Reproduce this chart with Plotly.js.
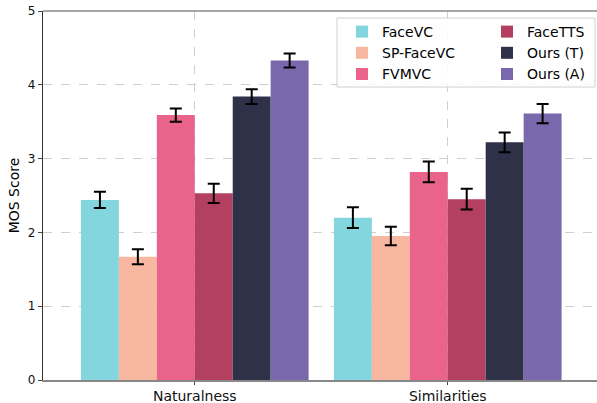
<!DOCTYPE html>
<html>
<head>
<meta charset="utf-8">
<script src="https://cdn.plot.ly/plotly-3.0.1.min.js"></script>
<style>html,body{margin:0;padding:0;background:#fff;}#chart{width:597px;height:403px;}</style>
</head>
<body>
<div id="chart"></div>
<script>
const categories = ["Naturalness", "Similarities"];
const methods = ["FaceVC", "SP-FaceVC", "FVMVC", "FaceTTS", "Ours (T)", "Ours (A)"];
const faceVC = [2.44, 2.20];
const spFaceVC = [1.67, 1.95];
const fvmvc = [3.59, 2.82];
const faceTTS = [2.53, 2.45];
const oursT = [3.84, 3.22];
const oursA = [4.33, 3.61];
const errFaceVC = [0.11, 0.14];
const errSpFaceVC = [0.10, 0.125];
const errFvmvc = [0.09, 0.14];
const errFaceTTS = [0.13, 0.14];
const errOursT = [0.10, 0.135];
const errOursA = [0.095, 0.13];
const yTicks = [0, 1, 2, 3, 4, 5];

const values = [faceVC, spFaceVC, fvmvc, faceTTS, oursT, oursA];
const errors = [errFaceVC, errSpFaceVC, errFvmvc, errFaceTTS, errOursT, errOursA];
const colors = ["#84d6de", "#f7b7a1", "#ea638b", "#b33f61", "#2e3148", "#7969ac"];

const traces = methods.map((m, i) => ({
  type: "bar",
  name: m,
  x: categories,
  y: values[i],
  marker: {color: colors[i], line: {width: 0}},
  error_y: {type: "data", array: errors[i], visible: true, color: "#000", thickness: 2, width: 6},
  legend: i < 3 ? "legend" : "legend2"
}));

const L = 43, T = 11, W = 554, H = 369;
const px = x => (x - L) / W;
const py = y => (T + H - y) / H;

const legendCommon = {
  bgcolor: "rgba(0,0,0,0)", borderwidth: 0,
  font: {family: "DejaVu Sans", size: 14, color: "#000"},
  yanchor: "top", xanchor: "left", tracegroupgap: 0, itemwidth: 30
};

const layout = {
  width: 597, height: 403,
  margin: {l: L, r: 0, t: T, b: 403 - T - H, autoexpand: false},
  paper_bgcolor: "#fff", plot_bgcolor: "#fff",
  barmode: "group", bargap: 0.1, bargroupgap: 0,
  font: {family: "DejaVu Sans", color: "#000"},
  xaxis: {
    type: "category", range: [-0.6, 1.59],
    showgrid: true, gridcolor: "#cfcfcf", griddash: "dash", gridwidth: 1,
    ticks: "outside", ticklen: 3, tickcolor: "#444",
    showline: true, linecolor: "#888", linewidth: 1.5,
    tickfont: {size: 14, color: "#111"}, zeroline: false
  },
  yaxis: {
    range: [0, 5], tickvals: yTicks, ticktext: yTicks.map(String),
    showgrid: true, gridcolor: "#cfcfcf", griddash: "dash", gridwidth: 1,
    ticks: "outside", ticklen: 4, tickcolor: "#444",
    showline: true, linecolor: "#333", linewidth: 1.2,
    tickfont: {size: 12, color: "#111"}, zeroline: false,
    title: {text: "MOS Score", font: {size: 14, color: "#000"}, standoff: 4}
  },
  legend: Object.assign({}, legendCommon, {x: px(342), y: py(16)}),
  legend2: Object.assign({}, legendCommon, {x: px(487), y: py(16)}),
  shapes: [
    {type: "line", xref: "paper", yref: "paper", x0: 0, x1: 1, y0: 1, y1: 1,
     line: {color: "#888", width: 1.5}},
    {type: "rect", xref: "paper", yref: "paper", layer: "above",
     x0: px(337), x1: px(595), y0: py(87), y1: py(18),
     fillcolor: "rgba(255,255,255,0.85)", line: {color: "#d0d0d0", width: 1}}
  ],
  showlegend: true
};

Plotly.newPlot("chart", traces, layout, {displayModeBar: false, staticPlot: true});
</script>
</body>
</html>
